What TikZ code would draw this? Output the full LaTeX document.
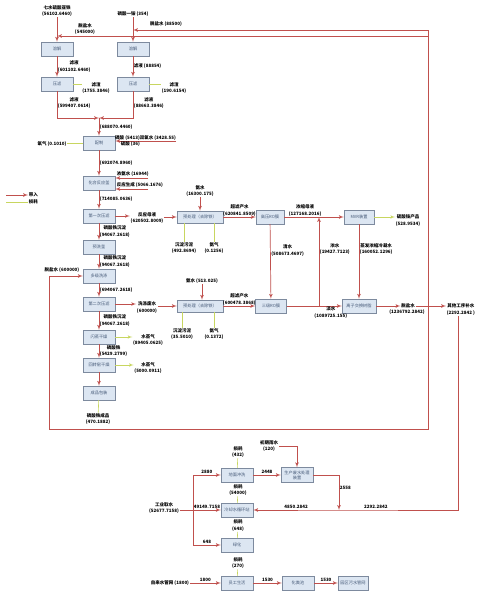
\documentclass[tikz,border=0pt]{standalone}
\usepackage{fontspec}
\setmainfont{Noto Sans CJK SC}
\usepackage{tikz}
\usetikzlibrary{arrows}
\definecolor{inred}{RGB}{192,80,77}
\definecolor{lossyel}{RGB}{200,214,96}
\definecolor{unitfill}{RGB}{220,230,242}
\definecolor{unitdraw}{RGB}{125,138,158}
\definecolor{unittext}{RGB}{70,90,120}

\begin{document}
\begin{tikzpicture}[x=1pt,y=-1pt,
  unit/.style={draw=unitdraw,fill=unitfill,minimum width=32pt,minimum height=14pt,inner sep=0pt,font=\fontsize{4.2}{5}\selectfont,text=unittext,align=center},
  lbl/.style={font=\fontsize{4.5}{6.5}\selectfont\bfseries,inner sep=0.6pt,align=center},
  feed/.style={draw=inred,line width=0.7pt,-latex'},
  pipe/.style={draw=inred,line width=0.7pt},
  loss/.style={draw=lossyel,line width=0.6pt},
  lossto/.style={loss,-latex'}]
          \fill[white] (0,0) rectangle (500,594);
          \useasboundingbox (0,0) rectangle (500,594);

          \node[unit] (rjl) at (57,49) {溶解};
          \node[unit] (rjr) at (133,49) {溶解};
          \node[unit] (ylz) at (57,84) {压滤};
          \node[unit] (ylr) at (133,84) {压滤};
          \node[unit] (pz) at (99,143) {配制};
          \node[unit] (hh) at (99,183) {化合反应釜};
          \node[unit] (yl1) at (99,216) {第一次压滤};
          \node[unit] (yx) at (99,247) {预洗釜};
          \node[unit] (dj) at (99,276) {多级洗涤};
          \node[unit] (yl2) at (99,304) {第二次压滤};
          \node[unit] (sz) at (99,337) {闪蒸干燥};
          \node[unit] (hz) at (99,365) {回转窑干燥};
          \node[unit] (cp) at (99,393) {成品包装};
          \node[unit,minimum width=46pt,minimum height=12pt] (yc1) at (200,217) {预处理（去除铁）};
          \node[unit,minimum width=46pt,minimum height=12pt] (yc2) at (200,306) {预处理（去除铁）};
          \node[unit,minimum width=28pt] (gy) at (270,217) {高压RO膜};
          \node[unit,minimum width=31pt] (ro3) at (271,306) {三级RO膜};
          \node[unit,minimum width=30pt] (mvr) at (359,217) {MVR装置};
          \node[unit,minimum width=34pt] (lz) at (359,306) {离子交换树脂};

          \node[unit] (dm) at (237,475) {地面冲洗};
          \node[unit,minimum height=15pt] (fs) at (297,475) {生产废水处理\\装置};
          \node[unit] (ls) at (237,510) {冷却水循环站};
          \node[unit] (lh) at (237,545) {绿化};
          \node[unit] (yg) at (237,583) {员工生活};
          \node[unit] (hf) at (298,583) {化粪池};
          \node[unit,minimum width=30pt] (ws) at (353,583) {园区污水管网};

          \node[lbl] (qs) at (57,11) {七水硫酸亚铁\\(56102.6460)};
          \node[lbl] (ma) at (133,14) {磷酸一铵 (354)};
          \node[lbl] (ts1) at (85,29) {脱盐水\\(545000)};
          \node[lbl] (ts0) at (166,24) {脱盐水 (88500)};
          \node[lbl] (ts3) at (62,270) {脱盐水 (600000)};

          \coordinate (t1) at (428,30);
          \coordinate (t2) at (428,36);
          \coordinate (j1) at (57,36);
          \coordinate (j2) at (133,30);
          \coordinate (jx) at (428,306);
          \coordinate (b1) at (428,429);
          \coordinate (b2) at (49,429);

          \draw[feed] (qs) -- (rjl);
          \draw[feed] (ma) -- (rjr);
          \draw[feed] (t2) -- (j1);
          \draw[feed] (jx) -- (t1) -- (j2);
          \draw[feed] (jx) -- (b1) -- (b2) |- (dj);

          \draw[feed] (rjl) -- node[lbl,right]{滤液\\(601102.6460)} (ylz);
          \draw[feed] (rjr) -- node[lbl,right]{滤液 (88854)} (ylr);
          \node[lbl] (zz1) at (96,88) {滤渣\\(1755.3846)};
          \node[lbl] (zz2) at (174,88) {滤渣\\(190.6154)};
          \draw[loss] (ylz) -- (ylz -| zz1.west);
          \draw[loss] (ylr) -- (ylr -| zz2.west);

          \coordinate (mg) at (99,118);
          \draw[feed] (ylz) |- node[lbl,right,pos=0.22]{滤液\\(599407.0614)} (mg);
          \draw[feed] (ylr) |- node[lbl,right,pos=0.22]{滤液\\(88663.3846)} (mg);
          \draw[feed] (mg) -- node[lbl,right]{(688070.4460)} (pz);

          \coordinate (p1) at (176,141);
          \draw[feed] (p1) -- node[lbl,above]{磷酸 (5413)双氧水 (3428.55)} node[lbl,below,pos=0.75]{硫酸 (36)} (pz.east |- p1);
          \node[lbl] (yq) at (52,144) {氧气 (0.1010)};
          \draw[loss] (pz) -- (pz -| yq.east);

          \draw[feed] (pz) -- node[lbl,right]{(692074.8960)} (hh);
          \coordinate (h1) at (148,178);
          \coordinate (h2) at (148,189);
          \node[lbl,anchor=south west] (na) at (116,177.3) {浓氨水 (16944)};
          \node[lbl,anchor=south west] (fy) at (116,188.3) {反应生成 (5066.1676)};
          \draw[feed] (h1) -- (hh.east |- h1);
          \draw[feed] (h2) -- (hh.east |- h2);

          \draw[feed] (hh) -- node[lbl,right]{(714085.0636)} (yl1);
          \draw[feed] (yl1) -- node[lbl,right]{磷酸铁沉淀\\(94067.2618)} (yx);
          \draw[feed] (yx) -- node[lbl,right]{磷酸铁沉淀\\(94067.2618)} (dj);
          \draw[feed] (dj) -- node[lbl,right]{(694067.2618)} (yl2);
          \draw[feed] (yl2) -- node[lbl,right]{磷酸铁沉淀\\(94067.2618)} (sz);
          \draw[feed] (sz) -- node[lbl,right]{磷酸铁\\(5429.2799)} (hz);
          \draw[feed] (hz) -- (cp);
          \node[lbl] (cpp) at (98,419) {磷酸铁成品\\(470.1882)};
          \draw[loss] (cp) -- (cpp);
          \node[lbl] (zq1) at (148,340) {水蒸气\\(89405.0625)};
          \node[lbl] (zq2) at (148,368) {水蒸气\\(5000.0911)};
          \draw[lossto] (sz) -- (sz -| zq1.west);
          \draw[lossto] (hz) -- (hz -| zq2.west);

          \node[lbl] (fm) at (147,218) {反应母液\\(620502.8009)};
          \draw[feed] (yl1) -- (yl1 -| fm.west);
          \draw[feed] (fm.east |- yc1) -- (yc1);
          \node[lbl] (as1) at (200,191) {氨水\\(16300.175)};
          \draw[feed] (as1) -- (yc1);
          \node[lbl] (wn1) at (184,248) {沉淀污泥\\(492.8694)};
          \node[lbl] (aq1) at (214,248) {氨气\\(0.1256)};
          \draw[loss] (yc1.south -| wn1) -- (wn1);
          \draw[loss] (yc1.south -| aq1) -- (aq1);
          \draw[feed] (yc1) -- node[lbl,above]{超滤产水\\(620841.8509)} (gy);
          \draw[feed] (gy) -- node[lbl,above,pos=0.35]{浓缩母液\\(127168.2016)} (mvr);
          \node[lbl] (lsa) at (408,220.5) {硫酸铵产品\\(528.9534)};
          \draw[lossto] (mvr) -- (mvr -| lsa.west);
          \draw[feed] (gy) -- node[lbl,right,pos=0.35]{清水\\(508673.4697)} (ro3);
          \draw[feed] (mvr) -- node[lbl,right,pos=0.33]{蒸发浓缩冷凝水\\(160052.1296)} (lz);

          \node[lbl] (xf) at (147,307.5) {洗涤废水\\(600000)};
          \draw[feed] (yl2) -- (yl2 -| xf.west);
          \draw[feed] (xf.east |- yc2) -- (yc2);
          \node[lbl] (as2) at (202,281) {氨水 (513.025)};
          \draw[feed] (as2) -- (yc2.north -| as2);
          \node[lbl] (wn2) at (182,334) {沉淀污泥\\(35.5010)};
          \node[lbl] (aq2) at (214,334) {氨气\\(0.1372)};
          \draw[loss] (yc2.south -| wn2) -- (wn2);
          \draw[loss] (yc2.south -| aq2) -- (aq2);
          \draw[feed] (yc2) -- node[lbl,above]{超滤产水\\(600478.3868)} (ro3);
          \draw[feed] (ro3) -- node[lbl,below,pos=0.8]{淡水\\(1089725.155)} (lz);
          \coordinate (jn) at (319,306);
          \draw[feed] (jn) -- node[lbl,right,pos=0.64]{浓水\\(19427.7123)} (jn |- gy);

          \node[lbl] (ts2) at (408,306) {脱盐水};
          \node[lbl] (tn2) at (407,312.5) {(1236792.2842)};
          \draw[feed] (lz) -- (lz -| ts2.west);
          \draw[pipe] (ts2) -- (jx);
          \node[lbl,anchor=west] (qt) at (446,309.5) {其他工序补水\\(2292.2842 )};
          \draw[feed] (jx) -- (qt.west |- jx);

          \coordinate (q1) at (458,510);
          \coordinate (jw) at (339,510);
          \coordinate (jg) at (193,510);
          \draw[feed] (qt.south -| q1) -- (q1) -- node[lbl,above,pos=0.69]{2292.2842} (jw) -- node[lbl,above]{4850.2842} (ls);
          \draw[feed] (fs) -| node[lbl,right,pos=0.69]{2558} (jw);

          \node[lbl] (cq) at (269,446) {初期雨水\\(120)};
          \draw[feed] (cq.east) -| (fs);
          \draw[feed] (dm) -- node[lbl,above]{2448} (fs);
          \node[lbl] (gs) at (164,508) {工业取水\\(52677.7158)};
          \draw[pipe] (gs.east |- jg) -- (jg);
          \draw[feed] (jg) -- node[lbl,above]{49149.7158} (ls);
          \draw[feed] (jg) |- node[lbl,above,pos=0.75]{2880} (dm);
          \draw[feed] (jg) |- node[lbl,above,pos=0.75]{648} (lh);

          \node[lbl] (sh1) at (238,452) {损耗\\(432)};
          \node[lbl] (sh2) at (238,490) {损耗\\(54000)};
          \node[lbl] (sh3) at (238,525.5) {损耗\\(648)};
          \node[lbl] (sh4) at (238,563) {损耗\\(270)};
          \draw[loss] (dm) -- (sh1);
          \draw[loss] (ls) -- (sh2);
          \draw[loss] (lh) -- (sh3);
          \draw[loss] (yg) -- (sh4);

          \node[lbl] (zl) at (170,583) {自来水管网 (1800)};
          \draw[feed] (zl) -- node[lbl,above]{1800} (yg);
          \draw[feed] (yg) -- node[lbl,above]{1530} (hf);
          \draw[feed] (hf) -- node[lbl,above]{1530} (ws);

          \coordinate (g1) at (6,195);
          \coordinate (g2) at (6,202);
          \node[lbl,anchor=west] (dr) at (28,195) {带入};
          \node[lbl,anchor=west] (sh) at (28,202) {损耗};
          \draw[feed] (g1) -- (dr);
          \draw[loss] (g2) -- (sh);
\end{tikzpicture}
\end{document}
